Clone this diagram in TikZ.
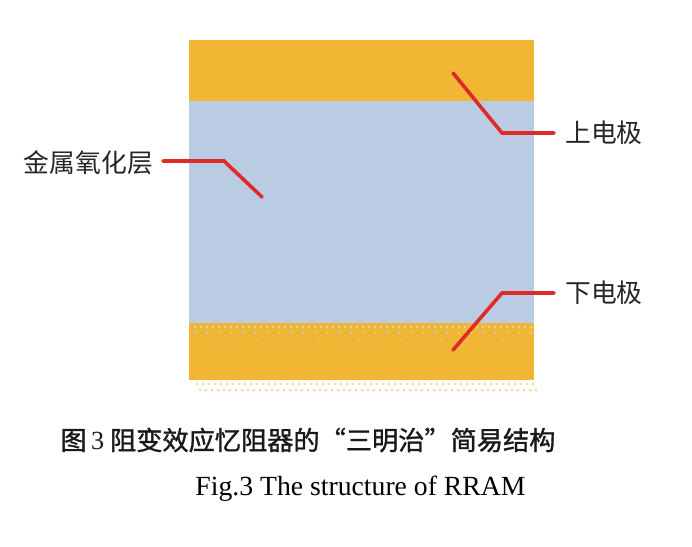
\documentclass[tikz,border=0pt]{standalone}
\usepackage{fontspec}
\setmainfont{Liberation Serif}
\newfontfamily\cjk{Noto Sans CJK SC}
\newfontfamily\cjkb[FakeBold=1.2]{Noto Sans CJK SC}
\definecolor{gold}{HTML}{F0B634}
\definecolor{oxide}{HTML}{B9CCE4}
\definecolor{lead}{HTML}{E02A2A}
\definecolor{fringe}{HTML}{F6D58A}
\begin{document}
\begin{tikzpicture}[x=1pt,y=-1pt,
  lab/.style={font=\cjk\fontsize{25.8}{28}\selectfont, inner sep=0pt, text=black!85},
  redline/.style={draw=lead, line width=3.6pt, line cap=round, line join=miter},
  layer/.style={draw=none, inner sep=0pt, anchor=north west}]
\useasboundingbox (0,0) rectangle (692,546);
% layers
\node[layer, fill=gold, minimum width=345pt, minimum height=61pt] (topel) at (189,40) {};
\node[layer, fill=oxide, minimum width=345pt, minimum height=222pt] (oxlayer) at (189,101) {};
\node[layer, fill=gold, minimum width=345pt, minimum height=57pt] (botel) at (189,323) {};
% dotted texture
\foreach \i in {0,...,56} {
  \fill[oxide!70!white] (195+6*\i,327) circle (1.2pt);
  \fill[fringe] (197+6*\i,384) circle (1.3pt);
  \fill[fringe] (200+6*\i,390) circle (1.3pt);
}
\foreach \i in {0,...,28} {
  \fill[oxide!80!white] (195+12*\i,333) circle (1.2pt);
}
\foreach \i in {0,...,15} {
  \fill[oxide] (216+20.5*\i,340) circle (1pt);
}
% labels
\node[lab, anchor=west] (lblTop) at (565,133) {上电极};
\node[lab, anchor=west] (lblBot) at (565,293) {下电极};
\node[lab, anchor=east] (lblOx) at (153,163) {金属氧化层};
% connector ends
\coordinate (tTop) at (453,73);
\coordinate (tBot) at (453,350);
\coordinate (tOx) at (262,197);
\coordinate (kTop) at (502,133);
\coordinate (kBot) at (502,293);
\coordinate (kOx) at (224,161);
\draw[redline] (tTop) -- (kTop) -- ([xshift=-11pt]lblTop.west |- kTop);
\draw[redline] (tBot) -- (kBot) -- ([xshift=-11pt]lblBot.west |- kBot);
\draw[redline] (tOx) -- (kOx) -- ([xshift=10pt]lblOx.east |- kOx);
% captions
\node[font=\cjkb\fontsize{26.2}{29}\selectfont, inner sep=0pt, text=black!90] (capcn) at (308,440) {图\,{\rmfamily 3} 阻变效应忆阻器的“三明治”简易结构};
\node[font=\rmfamily\fontsize{27.7}{30}\selectfont, inner sep=0pt] (capen) at (360.5,489) {Fig.3 The structure of RRAM};
\end{tikzpicture}
\end{document}
